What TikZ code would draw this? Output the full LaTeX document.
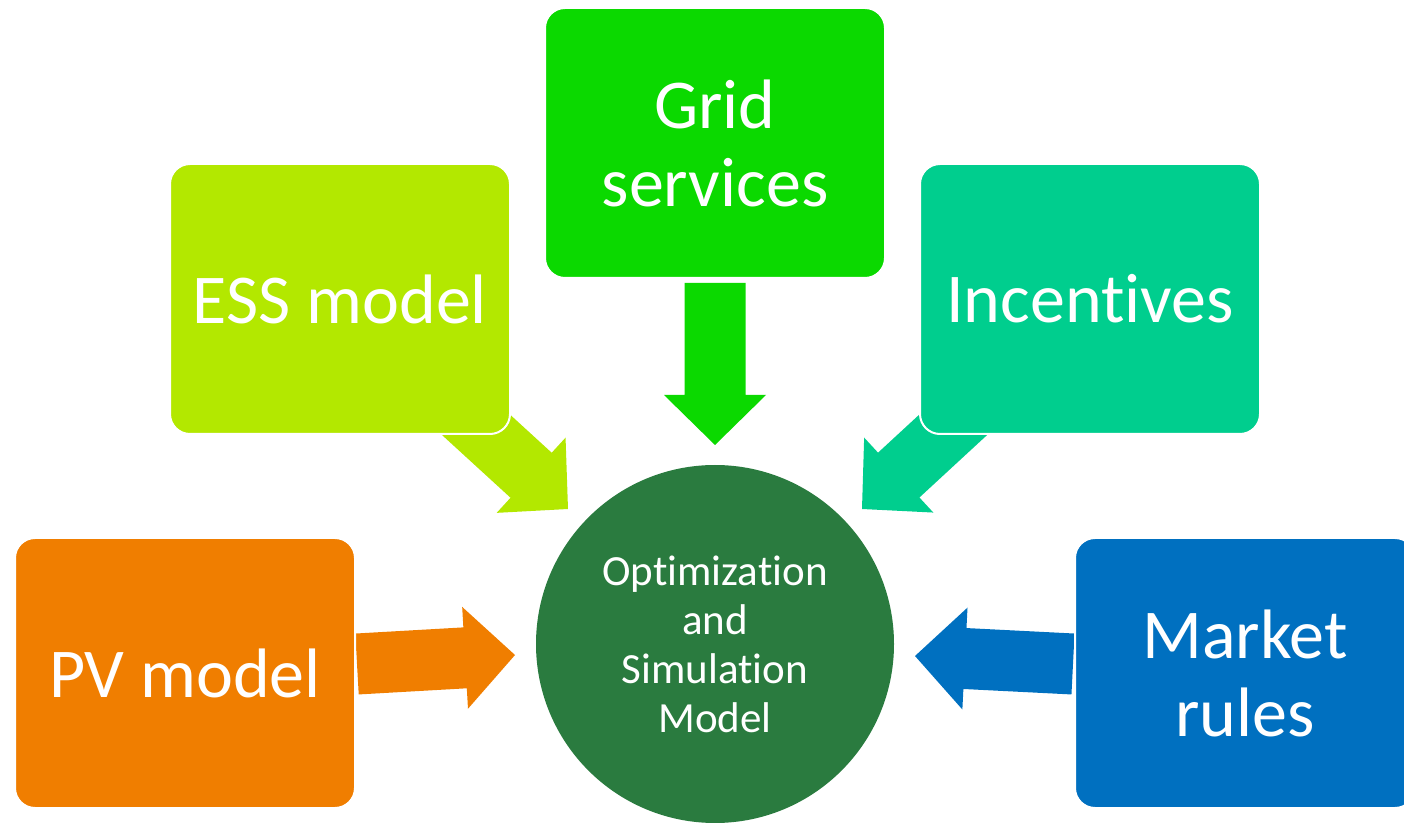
\documentclass[tikz,border=0pt]{standalone}
\usepackage{fontspec}
\setmainfont{Carlito}[RawFeature={-liga;-clig;-calt;-dlig}]
\usetikzlibrary{calc,backgrounds}

\definecolor{gridgreen}{RGB}{11,217,0}
\definecolor{essgreen}{RGB}{179,232,0}
\definecolor{incgreen}{RGB}{0,206,142}
\definecolor{pvorange}{RGB}{240,126,0}
\definecolor{marketblue}{RGB}{0,112,192}
\definecolor{hubgreen}{RGB}{42,123,63}

\tikzset{
  box/.style={draw=white, line width=1pt, rounded corners=10pt,
    minimum width=170pt, minimum height=135pt, inner sep=0pt,
    text=white, align=center, font=\fontsize{35}{39}\selectfont},
  hub/.style={circle, fill=hubgreen, minimum size=179pt, inner sep=0pt,
    text=white, align=center, font=\fontsize{21.5}{24.5}\selectfont},
}

% block arrow from tail #2 to tip #3: shaft 61px, head 102px wide, 50px long
\newcommand\blockarrow[3]{%
  \fill[#1] (#3)
    -- ($(#3)!25pt!(#2)!25.5pt!90:(#2)$)
    -- ($(#3)!25pt!(#2)!15.25pt!90:(#2)$)
    -- ($(#2)!15.25pt!-90:(#3)$)
    -- ($(#2)!15.25pt!90:(#3)$)
    -- ($(#3)!25pt!(#2)!15.25pt!-90:(#2)$)
    -- ($(#3)!25pt!(#2)!25.5pt!-90:(#2)$)
    -- cycle;}

\begin{document}
\begin{tikzpicture}[x=0.5pt, y=-0.5pt]
  \useasboundingbox (0,0) rectangle (1404,823);
  \clip (0,0) rectangle (1404,823);

  \node[box, fill=gridgreen]  (grid)   at (715,143)  {Grid\\services};
  \node[box, fill=essgreen]   (ess)    at (340,299)  {ESS model};
  \node[box, fill=incgreen]   (inc)    at (1090,299) {Incentives};
  \node[box, fill=pvorange]   (pv)     at (185,673)  {PV model};
  \node[box, fill=marketblue] (market) at (1245,673) {Market\\rules};
  \node[hub] (hub) at (715,644) {Optimization\\and\\Simulation\\Model};

  % arrow ends
  \coordinate (gridT)   at ($(grid.south)+(0,4)$);
  \coordinate (gridH)   at (715,445);
  \coordinate (essT)    at (450,401);
  \coordinate (essH)    at (568,509);
  \coordinate (incT)    at (979,401);
  \coordinate (incH)    at (862,509);
  \coordinate (pvT)     at (357,664);
  \coordinate (pvH)     at (515,655);
  \coordinate (marketT) at (1073,664);
  \coordinate (marketH) at (915,656);

  \begin{scope}[on background layer]
    \blockarrow{gridgreen}{gridT}{gridH}
    \blockarrow{essgreen}{essT}{essH}
    \blockarrow{incgreen}{incT}{incH}
    \blockarrow{pvorange}{pvT}{pvH}
    \blockarrow{marketblue}{marketT}{marketH}
  \end{scope}
\end{tikzpicture}
\end{document}
